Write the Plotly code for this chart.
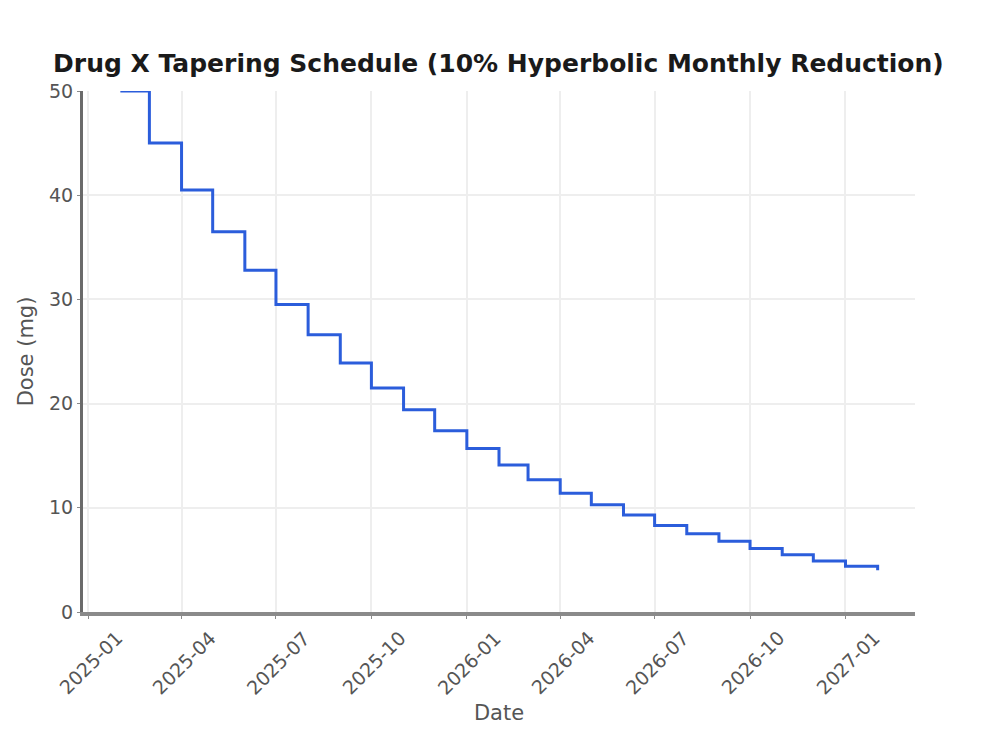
import plotly.graph_objects as go

# monthly schedule
dates = ['2025-02-01', '2025-03-01', '2025-04-01', '2025-05-01', '2025-06-01',
         '2025-07-01', '2025-08-01', '2025-09-01', '2025-10-01', '2025-11-01',
         '2025-12-01', '2026-01-01', '2026-02-01', '2026-03-01', '2026-04-01',
         '2026-05-01', '2026-06-01', '2026-07-01', '2026-08-01', '2026-09-01',
         '2026-10-01', '2026-11-01', '2026-12-01', '2027-01-01', '2027-02-01']
dose_mg = [50.0, 45.0, 40.5, 36.5, 32.8, 29.5, 26.6, 23.9, 21.5, 19.4,
           17.4, 15.7, 14.1, 12.7, 11.4, 10.3, 9.3, 8.3, 7.5, 6.8,
           6.1, 5.5, 4.9, 4.4, 4.0]

y_ticks = [0, 10, 20, 30, 40, 50]
x_tick_dates = ['2025-01-01', '2025-04-01', '2025-07-01', '2025-10-01', '2026-01-01',
                '2026-04-01', '2026-07-01', '2026-10-01', '2027-01-01']
x_tick_labels = ['2025-01', '2025-04', '2025-07', '2025-10', '2026-01',
                 '2026-04', '2026-07', '2026-10', '2027-01']

fig = go.Figure()
fig.add_trace(go.Scatter(x=dates, y=dose_mg, mode='lines', line_shape='hv',
                         line=dict(color='#2b5ddb', width=3), showlegend=False))

# page body adds an 8px offset, so the figure is 8px smaller than the window
fig.update_layout(
    width=975, height=730,
    margin=dict(l=75, r=68, t=83, b=126),
    paper_bgcolor='white', plot_bgcolor='white',
    font=dict(family='DejaVu Sans', color='#555555', size=19),
    title=dict(text='<b>Drug X Tapering Schedule (10% Hyperbolic Monthly Reduction)</b>',
               x=0.503, xanchor='center', y=0.924, yanchor='middle',
               font=dict(size=25, color='#1a1a1a')),
)

fig.update_xaxes(
    type='date', range=['2024-12-27', '2027-03-09'],
    tickvals=x_tick_dates, showticklabels=False,
    showgrid=True, gridcolor='#eeeeee', gridwidth=2,
    showline=True, linecolor='#8a8a8a', linewidth=4,
    ticks='outside', ticklen=3, tickcolor='#8a8a8a',
    title=dict(text='Date', font=dict(size=21, color='#555555'), standoff=88),
    zeroline=False,
)
fig.update_yaxes(
    range=[0, 50], tickvals=y_ticks,
    showgrid=True, gridcolor='#eeeeee', gridwidth=2,
    showline=True, linecolor='#6a6a6a', linewidth=3,
    ticks='outside', ticklen=3, tickcolor='#8a8a8a',
    title=dict(text='Dose (mg)', font=dict(size=21, color='#555555'), standoff=10),
    zeroline=False,
)

# rotated date labels centred under each tick (matplotlib style)
for d, lab in zip(x_tick_dates, x_tick_labels):
    fig.add_annotation(x=d, xref='x', y=-0.097, yref='paper', text=lab,
                       textangle=-45, showarrow=False, xanchor='center',
                       yanchor='middle', xshift=2,
                       font=dict(size=19, color='#555555'))

fig.write_html("out.html")
